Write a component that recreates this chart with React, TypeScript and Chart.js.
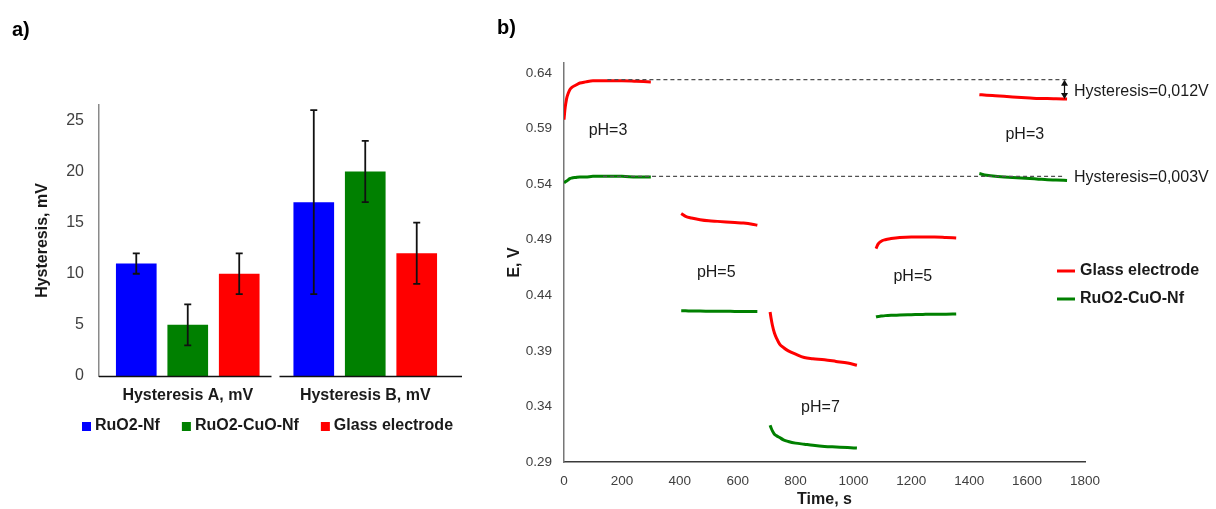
import React, { useEffect, useRef } from 'react';
import { Chart, registerables } from 'chart.js';

Chart.register(...registerables);

const FONT_FAMILY = '"Liberation Sans", Arial, Helvetica, sans-serif';
const INK = '#1a1a1a';
const TICK_INK = '#404040';
const RED = '#ff0000';
const GREEN = '#008000';
const BLUE = '#0000ff';

// ---- a) hysteresis of the three electrodes, mV ----
const hysteresisCategories = ['Hysteresis A, mV', 'Hysteresis B, mV'];
const ruo2NfMean = [11, 17];
const ruo2NfError = [1, 9];
const ruo2CuoNfMean = [5, 20];
const ruo2CuoNfError = [2, 3];
const glassMean = [10, 12];
const glassError = [2, 3];
const hysteresisTicks = [0, 5, 10, 15, 20, 25];

// ---- b) potential during the pH 3 -> 5 -> 7 -> 5 -> 3 cycle ----
// rows with null potential split the record between solution changes
const timeS = [
  0, 2, 4, 7, 10, 15, 20, 27, 40, 55, 75, 100, 150, 200, 250, 300,
  350,
  405, 420, 440, 470, 500, 530, 560, 590, 620, 650, 668,
  690,
  712, 715, 720, 727, 735, 745, 758, 775, 800, 830, 860, 900, 940, 980, 1012,
  1045,
  1078, 1085, 1095, 1110, 1130, 1160, 1200, 1240, 1280, 1320, 1355,
  1395,
  1435, 1460, 1490, 1520, 1550, 1580, 1610, 1640, 1670, 1700, 1738,
];
const glassE = [
  0.598, 0.604, 0.609, 0.614, 0.618, 0.622, 0.625, 0.627, 0.629, 0.631, 0.632, 0.633, 0.633, 0.633, 0.6325, 0.632,
  null,
  0.5135, 0.511, 0.5095, 0.508, 0.507, 0.5065, 0.506, 0.5055, 0.505, 0.504, 0.503,
  null,
  0.425, 0.42, 0.413, 0.406, 0.401, 0.396, 0.393, 0.39, 0.387, 0.384, 0.383, 0.382, 0.3805, 0.379, 0.377,
  null,
  0.482, 0.486, 0.4885, 0.49, 0.491, 0.492, 0.4925, 0.4925, 0.4925, 0.492, 0.4915,
  null,
  0.6205, 0.62, 0.6195, 0.619, 0.6185, 0.618, 0.6175, 0.617, 0.617, 0.6168, 0.6165,
];
const ruo2CuoNfE = [
  0.541, 0.5415, 0.542, 0.5425, 0.543, 0.544, 0.545, 0.5455, 0.546, 0.5465, 0.5465, 0.547, 0.547, 0.547, 0.5465, 0.5465,
  null,
  0.426, 0.426, 0.4258, 0.4258, 0.4257, 0.4256, 0.4256, 0.4255, 0.4255, 0.4255, 0.4254,
  null,
  0.323, 0.321, 0.318, 0.315, 0.3135, 0.312, 0.31, 0.3085, 0.307, 0.306, 0.305, 0.304, 0.3035, 0.303, 0.3025,
  null,
  0.4205, 0.421, 0.4213, 0.4217, 0.422, 0.4222, 0.4225, 0.4228, 0.423, 0.423, 0.4232,
  null,
  0.5495, 0.548, 0.547, 0.5465, 0.546, 0.5455, 0.545, 0.5445, 0.544, 0.5437, 0.5433,
];
const potentialTicks = [0.29, 0.34, 0.39, 0.44, 0.49, 0.54, 0.59, 0.64];
const timeTicks = [0, 200, 400, 600, 800, 1000, 1200, 1400, 1600, 1800];

// first pH 3 plateau, carried over to the final pH 3 step
const plateauLevelE = [0.634, 0.547];
const plateauFromS = [150, 135];
const plateauToS = [1738, 1728];
const hysteresisTexts = ['Hysteresis=0,012V', 'Hysteresis=0,003V'];

// text notes placed in data coordinates
const phNotes = [
  { text: 'pH=3', t: 152, e: 0.5878 },
  { text: 'pH=5', t: 526, e: 0.46 },
  { text: 'pH=7', t: 886, e: 0.3393 },
  { text: 'pH=5', t: 1205, e: 0.4564 },
  { text: 'pH=3', t: 1592, e: 0.585 },
];
const hysteresisNotes = [
  { t: 1762, e: 0.6229 },
  { t: 1762, e: 0.5455 },
];
const arrowAtS = 1727;

const font = (size: number, bold = false) => `${bold ? 'bold ' : ''}${size}px ${FONT_FAMILY}`;

// ---------- panel a) ----------
const barOverlay = {
  id: 'barOverlay',
  afterDatasetsDraw(chart: any) {
    const { ctx, chartArea, scales } = chart;
    const yScale = scales.y;
    const xScale = scales.x;
    ctx.save();

    // error bars
    ctx.strokeStyle = '#111';
    ctx.lineWidth = 1.8;
    chart.data.datasets.forEach((ds: any, i: number) => {
      const meta = chart.getDatasetMeta(i);
      meta.data.forEach((bar: any, j: number) => {
        const hi = yScale.getPixelForValue(ds.data[j] + ds.errors[j]);
        const lo = yScale.getPixelForValue(ds.data[j] - ds.errors[j]);
        ctx.beginPath();
        ctx.moveTo(bar.x, hi);
        ctx.lineTo(bar.x, lo);
        ctx.moveTo(bar.x - 3.5, hi);
        ctx.lineTo(bar.x + 3.5, hi);
        ctx.moveTo(bar.x - 3.5, lo);
        ctx.lineTo(bar.x + 3.5, lo);
        ctx.stroke();
      });
    });

    // category axis, split between the two groups
    const mid = xScale.getPixelForValue(0.5);
    const yb = chartArea.bottom + 0.5;
    ctx.strokeStyle = '#111';
    ctx.lineWidth = 1.5;
    ctx.beginPath();
    ctx.moveTo(chartArea.left, yb);
    ctx.lineTo(mid - 5, yb);
    ctx.moveTo(mid + 3, yb);
    ctx.lineTo(chartArea.right + 8, yb);
    ctx.stroke();
    ctx.restore();
  },
  afterDraw(chart: any) {
    const { ctx, chartArea } = chart;
    ctx.save();
    // legend row
    ctx.font = font(16, true);
    ctx.textBaseline = 'middle';
    ctx.textAlign = 'left';
    let x = chartArea.left - 17;
    const y = chartArea.bottom + 50;
    chart.data.datasets.forEach((ds: any) => {
      ctx.fillStyle = ds.backgroundColor;
      ctx.fillRect(x, y - 4, 9, 9);
      ctx.fillStyle = INK;
      ctx.fillText(ds.label, x + 13, y);
      x += 13 + ctx.measureText(ds.label).width + 22;
    });
    // panel letter
    ctx.font = font(20, true);
    ctx.fillStyle = '#000';
    ctx.fillText('a)', 12, 30);
    ctx.restore();
  },
};

function HysteresisBars() {
  const ref = useRef<HTMLCanvasElement | null>(null);
  useEffect(() => {
    if (!ref.current) return;
    const chart = new Chart(ref.current, {
      type: 'bar',
      data: {
        labels: hysteresisCategories,
        datasets: [
          { label: 'RuO2-Nf', data: ruo2NfMean, errors: ruo2NfError, backgroundColor: BLUE },
          { label: 'RuO2-CuO-Nf', data: ruo2CuoNfMean, errors: ruo2CuoNfError, backgroundColor: GREEN },
          { label: 'Glass electrode', data: glassMean, errors: glassError, backgroundColor: RED },
        ] as any,
      },
      options: {
        responsive: false,
        animation: false,
        devicePixelRatio: 1,
        layout: { padding: { top: 105, right: 26, bottom: 0, left: 0 } },
        datasets: { bar: { categoryPercentage: 0.87, barPercentage: 0.79 } },
        plugins: { legend: { display: false }, tooltip: { enabled: false } },
        scales: {
          x: {
            grid: { display: false },
            border: { display: false },
            ticks: { font: { family: FONT_FAMILY, size: 16, weight: 'bold' }, color: INK, padding: 2 },
            afterFit: (s: any) => { s.height = 133; },
          },
          y: {
            min: 0,
            max: 26.5,
            grid: { display: false },
            border: { display: true, color: '#8a8a8a', width: 1.5 },
            ticks: { font: { family: FONT_FAMILY, size: 16 }, color: TICK_INK, padding: 7 },
            afterBuildTicks: (s: any) => { s.ticks = hysteresisTicks.map((v) => ({ value: v })); },
            afterFit: (s: any) => { s.width = 99; },
            title: {
              display: true,
              text: 'Hysteresis, mV',
              color: INK,
              font: { family: FONT_FAMILY, size: 16, weight: 'bold' },
              padding: { top: 32.5, bottom: 0 },
            },
          },
        },
      } as any,
      plugins: [barOverlay],
    });
    return () => chart.destroy();
  }, []);
  return <canvas ref={ref} width={480} height={509} style={{ position: 'absolute', left: 0, top: 0 }} />;
}

// ---------- panel b) ----------
const potentialOverlay = {
  id: 'potentialOverlay',
  afterDatasetsDraw(chart: any) {
    const { ctx, chartArea, scales } = chart;
    const x = scales.x;
    const y = scales.y;
    ctx.save();

    // pH step notes
    ctx.font = font(16);
    ctx.fillStyle = INK;
    ctx.textAlign = 'center';
    ctx.textBaseline = 'middle';
    phNotes.forEach((n) => ctx.fillText(n.text, x.getPixelForValue(n.t), y.getPixelForValue(n.e)));

    // double arrow between the first plateau and the final glass electrode reading
    const ax = Math.round(x.getPixelForValue(arrowAtS)) + 0.5;
    const y1 = y.getPixelForValue(plateauLevelE[0]);
    const lastGlass = glassE[glassE.length - 1] as number;
    const y2 = y.getPixelForValue(lastGlass);
    ctx.strokeStyle = '#111';
    ctx.fillStyle = '#111';
    ctx.lineWidth = 1.2;
    ctx.beginPath();
    ctx.moveTo(ax, y1 + 5);
    ctx.lineTo(ax, y2 - 5);
    ctx.stroke();
    ctx.beginPath();
    ctx.moveTo(ax, y1);
    ctx.lineTo(ax - 3.5, y1 + 6);
    ctx.lineTo(ax + 3.5, y1 + 6);
    ctx.closePath();
    ctx.fill();
    ctx.beginPath();
    ctx.moveTo(ax, y2);
    ctx.lineTo(ax - 3.5, y2 - 6);
    ctx.lineTo(ax + 3.5, y2 - 6);
    ctx.closePath();
    ctx.fill();

    // hysteresis values
    ctx.fillStyle = INK;
    ctx.textAlign = 'left';
    hysteresisNotes.forEach((n, i) =>
      ctx.fillText(hysteresisTexts[i], x.getPixelForValue(n.t), y.getPixelForValue(n.e))
    );

    // legend
    const series = chart.data.datasets.filter((d: any) => d.isSeries);
    const lx = chartArea.right - 28;
    let ly = chartArea.top + 208;
    ctx.font = font(16, true);
    series.forEach((d: any) => {
      ctx.strokeStyle = d.borderColor;
      ctx.lineWidth = 3;
      ctx.beginPath();
      ctx.moveTo(lx, ly);
      ctx.lineTo(lx + 18, ly);
      ctx.stroke();
      ctx.fillStyle = INK;
      ctx.fillText(d.label, lx + 23, ly);
      ly += 28;
    });
    ctx.restore();
  },
  afterDraw(chart: any) {
    const { ctx } = chart;
    ctx.save();
    ctx.font = font(20, true);
    ctx.fillStyle = '#000';
    ctx.textAlign = 'left';
    ctx.textBaseline = 'middle';
    ctx.fillText('b)', 17, 28);
    ctx.restore();
  },
};

function PotentialRecord() {
  const ref = useRef<HTMLCanvasElement | null>(null);
  useEffect(() => {
    if (!ref.current) return;
    const toPoints = (values: (number | null)[]) => timeS.map((t, k) => ({ x: t, y: values[k] }));
    const plateauSets = plateauLevelE.map((e, i) => ({
      label: `plateau ${i}`,
      data: [
        { x: plateauFromS[i], y: e },
        { x: plateauToS[i], y: e },
      ],
      borderColor: '#505050',
      borderWidth: 1.3,
      borderDash: [4, 3],
      pointRadius: 0,
      order: 0,
    }));
    const chart = new Chart(ref.current, {
      type: 'line',
      data: {
        datasets: [
          ...plateauSets,
          {
            label: 'Glass electrode',
            isSeries: true,
            data: toPoints(glassE),
            borderColor: RED,
            borderWidth: 3,
            pointRadius: 0,
            spanGaps: false,
            cubicInterpolationMode: 'monotone',
            order: 1,
          },
          {
            label: 'RuO2-CuO-Nf',
            isSeries: true,
            data: toPoints(ruo2CuoNfE),
            borderColor: GREEN,
            borderWidth: 3,
            pointRadius: 0,
            spanGaps: false,
            cubicInterpolationMode: 'monotone',
            order: 1,
          },
        ] as any,
      },
      options: {
        responsive: false,
        animation: false,
        devicePixelRatio: 1,
        layout: { padding: { top: 63, right: 131, bottom: 0, left: 0 } },
        plugins: { legend: { display: false }, tooltip: { enabled: false } },
        scales: {
          x: {
            type: 'linear',
            min: 0,
            max: 1800,
            grid: { display: false },
            border: { display: true, color: '#3a3a3a', width: 1.5 },
            ticks: {
              font: { family: FONT_FAMILY, size: 13.5 },
              color: TICK_INK,
              padding: 3,
              callback: (v: any) => String(v),
            },
            afterBuildTicks: (s: any) => { s.ticks = timeTicks.map((v) => ({ value: v })); },
            afterFit: (s: any) => { s.height = 47; },
            title: {
              display: true,
              text: 'Time, s',
              color: INK,
              font: { family: FONT_FAMILY, size: 16, weight: 'bold' },
              padding: { top: 0, bottom: 0 },
            },
          },
          y: {
            min: 0.29,
            max: 0.649,
            grid: { display: false },
            border: { display: true, color: '#777777', width: 1.5 },
            ticks: {
              font: { family: FONT_FAMILY, size: 13.5 },
              color: TICK_INK,
              padding: 4,
              callback: (v: any) => Number(v).toFixed(2),
            },
            afterBuildTicks: (s: any) => { s.ticks = potentialTicks.map((v) => ({ value: v })); },
            afterFit: (s: any) => { s.width = 84; },
            title: {
              display: true,
              text: 'E, V',
              color: INK,
              font: { family: FONT_FAMILY, size: 16, weight: 'bold' },
              padding: { top: 25.4, bottom: 0 },
            },
          },
        },
      } as any,
      plugins: [potentialOverlay],
    });
    return () => chart.destroy();
  }, []);
  return <canvas ref={ref} width={736} height={509} style={{ position: 'absolute', left: 480, top: 0 }} />;
}

export default function App() {
  return (
    <div style={{ position: 'absolute', left: 0, top: 0, width: 1216, height: 509, background: '#ffffff', overflow: 'hidden' }}>
      <HysteresisBars />
      <PotentialRecord />
    </div>
  );
}
